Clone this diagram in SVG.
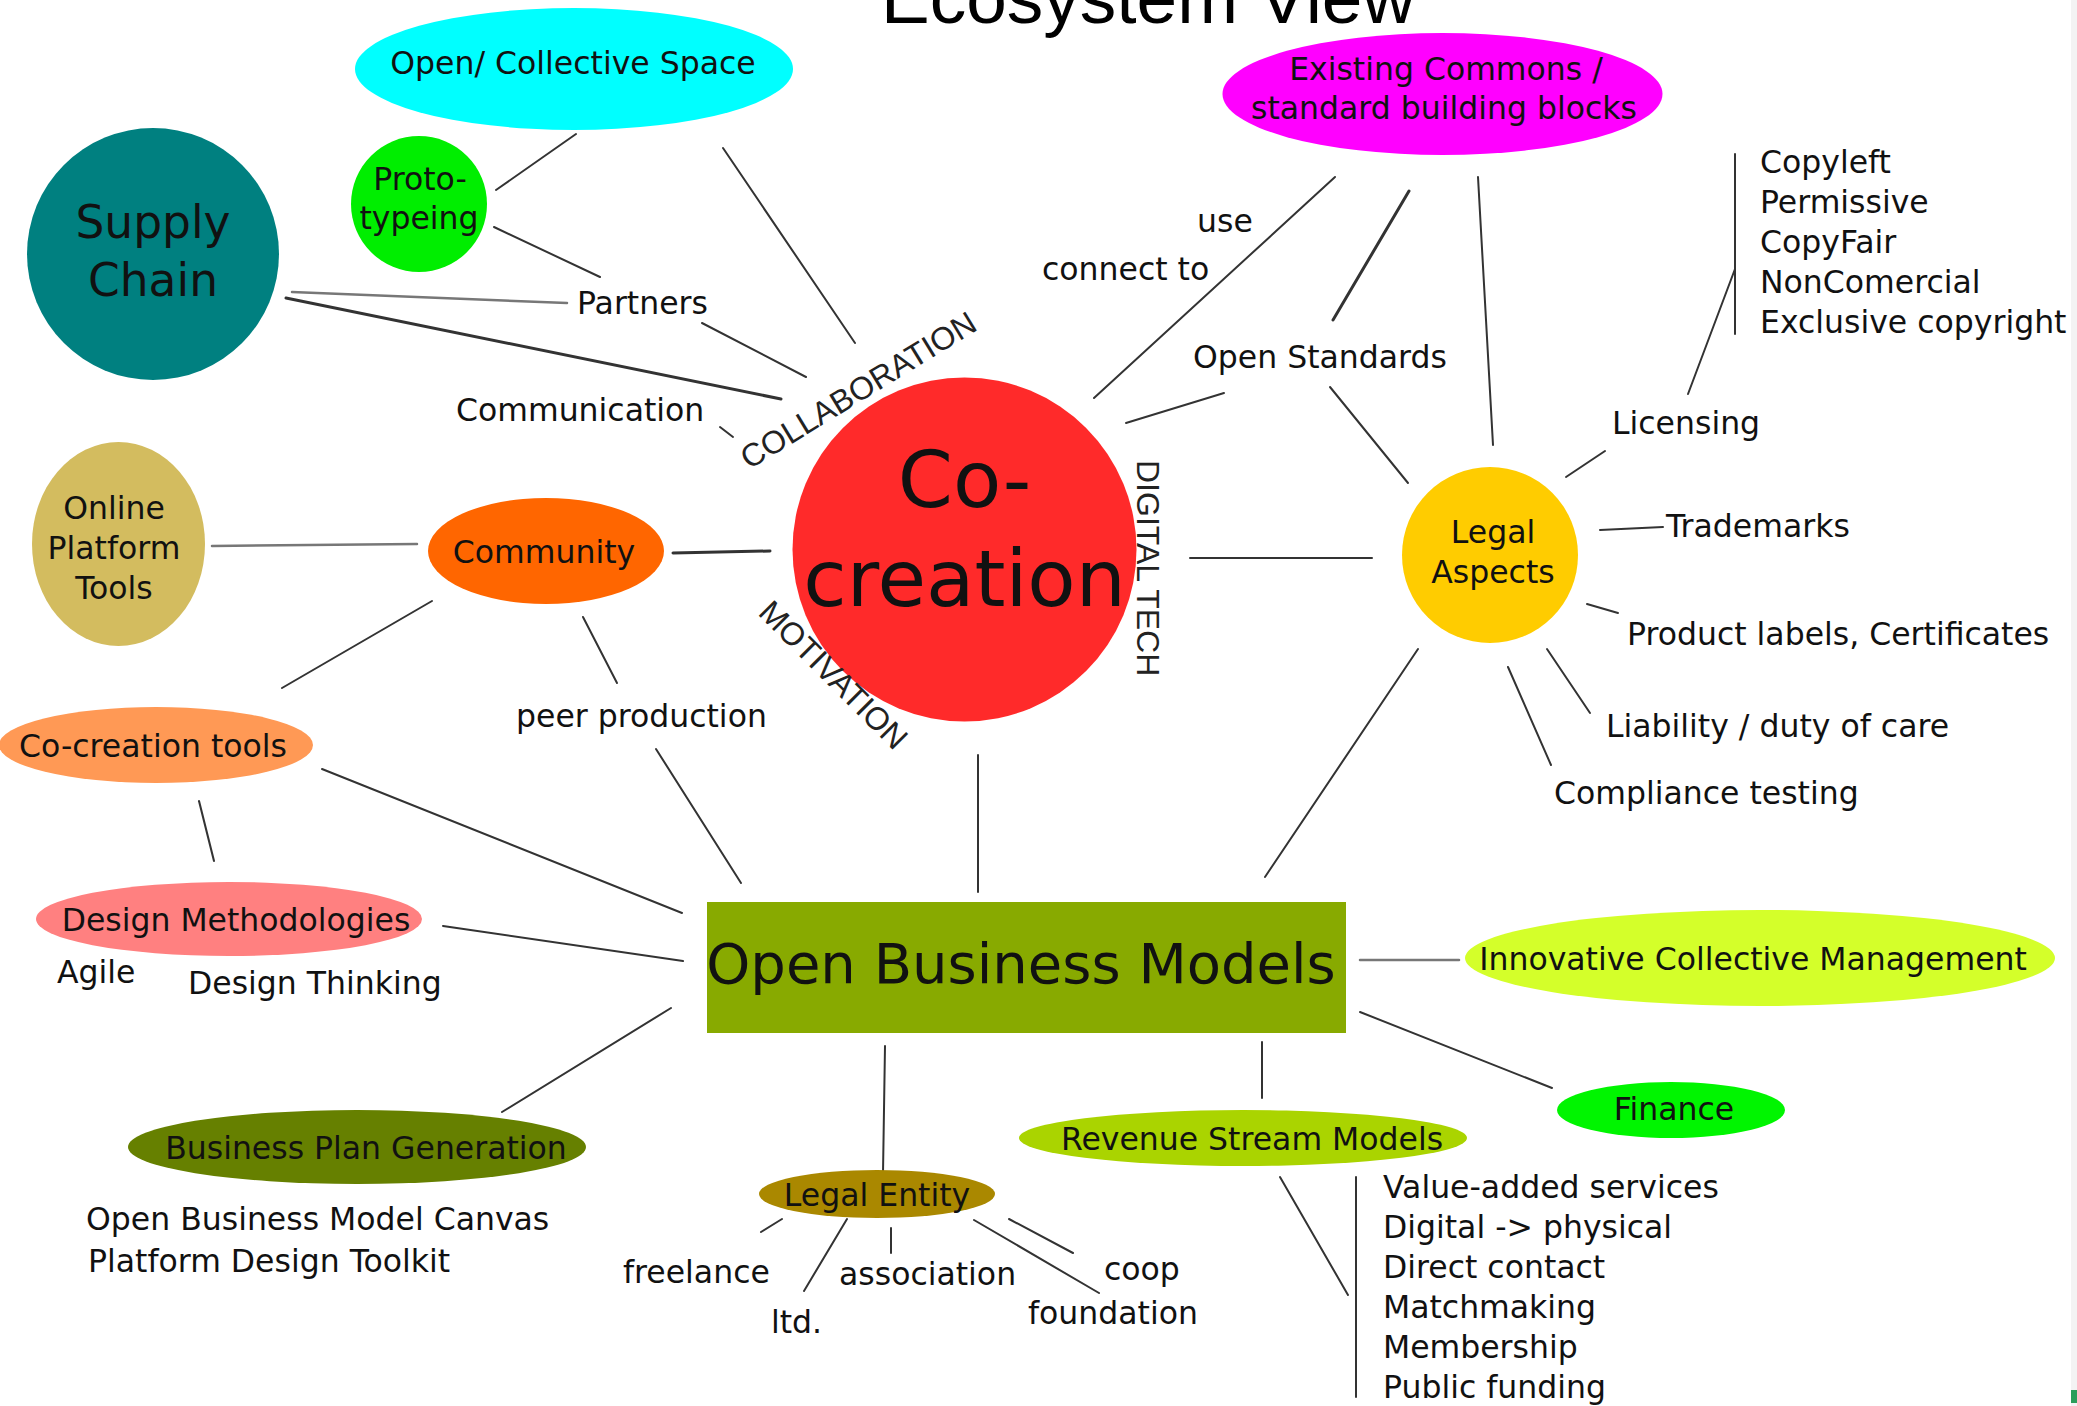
<svg xmlns="http://www.w3.org/2000/svg" width="2077" height="1406" viewBox="0 0 2077 1406">
<style>
  text { font-family: "DejaVu Sans", "Noto Sans", sans-serif; fill: #111; }
  .lbl { font-size: 31.5px; }
  .c { text-anchor: middle; }
  .rot { font-family: "Liberation Sans", Arial, sans-serif; font-size: 32px; fill: #222; }
  .title { font-family: "Liberation Sans", Arial, sans-serif; font-size: 73px; fill: #000; }
  #connectors line { stroke: #333; stroke-width: 2; stroke-linecap: round; }
  #connectors line.thick { stroke-width: 3; }
  #connectors line.gray { stroke: #777; stroke-width: 2.5; }
</style>
<rect x="0" y="0" width="2077" height="1406" fill="#ffffff"/>
<rect x="2071" y="0" width="6" height="1406" fill="#f3f3f3"/>
<rect x="2071" y="1390" width="6" height="13" fill="#2a9d5a"/>

<text class="title" x="881" y="23">Ecosystem View</text>

<g id="connectors">
  <line x1="576" y1="134" x2="496" y2="190"/>
  <line x1="723" y1="148" x2="855" y2="343"/>
  <line x1="494" y1="227" x2="600" y2="277"/>
  <line class="gray" x1="292" y1="292" x2="567" y2="303"/>
  <line class="thick" x1="286" y1="298" x2="781" y2="399"/>
  <line x1="702" y1="323" x2="806" y2="377"/>
  <line x1="720" y1="427" x2="733" y2="437"/>
  <line class="gray" x1="212" y1="546" x2="417" y2="544"/>
  <line class="thick" x1="673" y1="553" x2="770" y2="551"/>
  <line x1="432" y1="601" x2="282" y2="688"/>
  <line x1="583" y1="617" x2="617" y2="683"/>
  <line x1="656" y1="749" x2="741" y2="883"/>
  <line x1="978" y1="755" x2="978" y2="892"/>
  <line x1="199" y1="801" x2="214" y2="861"/>
  <line x1="322" y1="769" x2="682" y2="913"/>
  <line x1="443" y1="926" x2="683" y2="961"/>
  <line x1="502" y1="1112" x2="671" y2="1008"/>
  <line x1="885" y1="1046" x2="883" y2="1173"/>
  <line x1="782" y1="1219" x2="761" y2="1232"/>
  <line x1="847" y1="1219" x2="804" y2="1291"/>
  <line x1="891" y1="1228" x2="891" y2="1253"/>
  <line x1="1009" y1="1219" x2="1073" y2="1253"/>
  <line x1="974" y1="1220" x2="1099" y2="1293"/>
  <line x1="1262" y1="1042" x2="1262" y2="1098"/>
  <line x1="1280" y1="1177" x2="1348" y2="1295"/>
  <line x1="1356" y1="1177" x2="1356" y2="1397"/>
  <line class="gray" x1="1360" y1="960" x2="1459" y2="960"/>
  <line x1="1360" y1="1012" x2="1552" y2="1088"/>
  <line x1="1418" y1="649" x2="1265" y2="877"/>
  <line x1="1190" y1="558" x2="1372" y2="558"/>
  <line x1="1600" y1="530" x2="1663" y2="527"/>
  <line x1="1587" y1="604" x2="1618" y2="613"/>
  <line x1="1547" y1="649" x2="1590" y2="713"/>
  <line x1="1508" y1="667" x2="1551" y2="765"/>
  <line x1="1335" y1="177" x2="1094" y2="398"/>
  <line class="thick" x1="1409" y1="191" x2="1333" y2="320"/>
  <line x1="1478" y1="177" x2="1493" y2="445"/>
  <line x1="1224" y1="393" x2="1126" y2="423"/>
  <line x1="1330" y1="387" x2="1408" y2="483"/>
  <line x1="1605" y1="451" x2="1566" y2="477"/>
  <line x1="1688" y1="394" x2="1735" y2="269"/>
  <line x1="1735" y1="154" x2="1735" y2="334"/>
</g>

<g id="open-collective-space">
  <ellipse cx="574" cy="69" rx="219" ry="61" fill="#00ffff"/>
  <text class="lbl c" x="573" y="74">Open/ Collective Space</text>
</g>
<g id="prototypeing">
  <ellipse cx="419" cy="204" rx="68" ry="68" fill="#00ee00"/>
  <text class="lbl c" x="420" y="190">Proto-</text>
  <text class="lbl c" x="419" y="229">typeing</text>
</g>
<g id="supply-chain">
  <circle cx="153" cy="254" r="126" fill="#008080"/>
  <text class="c" x="153" y="238" font-size="45.5">Supply</text>
  <text class="c" x="153" y="296" font-size="45.5">Chain</text>
</g>
<g id="partners"><text class="lbl" x="577" y="314">Partners</text></g>
<g id="communication"><text class="lbl" x="456" y="421">Communication</text></g>

<g id="online-platform-tools">
  <ellipse cx="118.5" cy="544" rx="86.5" ry="102" fill="#d3bc5f"/>
  <text class="lbl c" x="114" y="519">Online</text>
  <text class="lbl c" x="114" y="559">Platform</text>
  <text class="lbl c" x="114" y="599">Tools</text>
</g>
<g id="community">
  <ellipse cx="546" cy="551" rx="118" ry="53" fill="#ff6600"/>
  <text class="lbl c" x="544" y="563">Community</text>
</g>

<g id="co-creation">
  <circle cx="964.5" cy="549.5" r="172" fill="#ff2a2a"/>
  <text class="c" x="964.5" y="507" font-size="79">Co-</text>
  <text class="c" x="964.5" y="606" font-size="79">creation</text>
  <text class="rot" transform="translate(749,470) rotate(-31.5)">COLLABORATION</text>
  <text class="rot" transform="translate(757,614) rotate(45)">MOTIVATION</text>
  <text class="rot" transform="translate(1137,460) rotate(90)">DIGITAL TECH</text>
</g>

<g id="peer-production"><text class="lbl" x="516" y="727">peer production</text></g>

<g id="co-creation-tools">
  <ellipse cx="156" cy="745" rx="157" ry="38" fill="#ff9955"/>
  <text class="lbl c" x="153" y="757">Co-creation tools</text>
</g>
<g id="design-methodologies">
  <ellipse cx="229" cy="919" rx="193" ry="37" fill="#ff8080"/>
  <text class="lbl c" x="236" y="931">Design Methodologies</text>
</g>
<g id="agile"><text class="lbl" x="57" y="983">Agile</text></g>
<g id="design-thinking"><text class="lbl" x="188" y="994">Design Thinking</text></g>

<g id="open-business-models">
  <rect x="707" y="902" width="639" height="131" fill="#88aa00"/>
  <text class="c" x="1021" y="983" font-size="56">Open Business Models</text>
</g>

<g id="business-plan-generation">
  <ellipse cx="357" cy="1147" rx="229" ry="37" fill="#668000"/>
  <text class="lbl c" x="366" y="1159">Business Plan Generation</text>
</g>
<g id="bpg-tools">
  <text class="lbl" x="86" y="1230">Open Business Model Canvas</text>
  <text class="lbl" x="88" y="1272">Platform Design Toolkit</text>
</g>

<g id="legal-entity">
  <ellipse cx="877" cy="1194" rx="118" ry="24" fill="#aa8800"/>
  <text class="lbl c" x="877" y="1206">Legal Entity</text>
</g>
<g id="freelance"><text class="lbl" x="623" y="1283">freelance</text></g>
<g id="ltd"><text class="lbl" x="771" y="1333">ltd.</text></g>
<g id="association"><text class="lbl" x="839" y="1285">association</text></g>
<g id="coop"><text class="lbl" x="1104" y="1280">coop</text></g>
<g id="foundation"><text class="lbl" x="1028" y="1324">foundation</text></g>

<g id="revenue-stream-models">
  <ellipse cx="1243" cy="1138" rx="224" ry="28" fill="#aad400"/>
  <text class="lbl c" x="1252" y="1150">Revenue Stream Models</text>
</g>
<g id="revenue-list">
  <text class="lbl" x="1383" y="1198">Value-added services</text>
  <text class="lbl" x="1383" y="1238">Digital -&gt; physical</text>
  <text class="lbl" x="1383" y="1278">Direct contact</text>
  <text class="lbl" x="1383" y="1318">Matchmaking</text>
  <text class="lbl" x="1383" y="1358">Membership</text>
  <text class="lbl" x="1383" y="1398">Public funding</text>
</g>

<g id="innovative-collective-management">
  <ellipse cx="1760" cy="958" rx="295" ry="48" fill="#d4ff2a"/>
  <text class="lbl c" x="1753" y="970">Innovative Collective Management</text>
</g>
<g id="finance">
  <ellipse cx="1671" cy="1110" rx="114" ry="28" fill="#00f500"/>
  <text class="lbl c" x="1674" y="1120">Finance</text>
</g>

<g id="legal-aspects">
  <ellipse cx="1490" cy="555" rx="88" ry="88" fill="#ffcc00"/>
  <text class="lbl c" x="1493" y="543">Legal</text>
  <text class="lbl c" x="1493" y="583">Aspects</text>
</g>
<g id="trademarks"><text class="lbl" x="1666" y="537">Trademarks</text></g>
<g id="product-labels"><text class="lbl" x="1627" y="645">Product labels, Certificates</text></g>
<g id="liability"><text class="lbl" x="1606" y="737">Liability / duty of care</text></g>
<g id="compliance"><text class="lbl" x="1554" y="804">Compliance testing</text></g>

<g id="existing-commons">
  <ellipse cx="1442.5" cy="94" rx="220" ry="61" fill="#ff00ff"/>
  <text class="lbl c" x="1446" y="80">Existing Commons /</text>
  <text class="lbl c" x="1444" y="119">standard building blocks</text>
</g>
<g id="use"><text class="lbl" x="1197" y="232">use</text></g>
<g id="connect-to"><text class="lbl" x="1042" y="280">connect to</text></g>
<g id="open-standards"><text class="lbl" x="1193" y="368">Open Standards</text></g>
<g id="licensing"><text class="lbl" x="1612" y="434">Licensing</text></g>
<g id="licensing-list">
  <text class="lbl" x="1760" y="173">Copyleft</text>
  <text class="lbl" x="1760" y="213">Permissive</text>
  <text class="lbl" x="1760" y="253">CopyFair</text>
  <text class="lbl" x="1760" y="293">NonComercial</text>
  <text class="lbl" x="1760" y="333">Exclusive copyright</text>
</g>
</svg>
